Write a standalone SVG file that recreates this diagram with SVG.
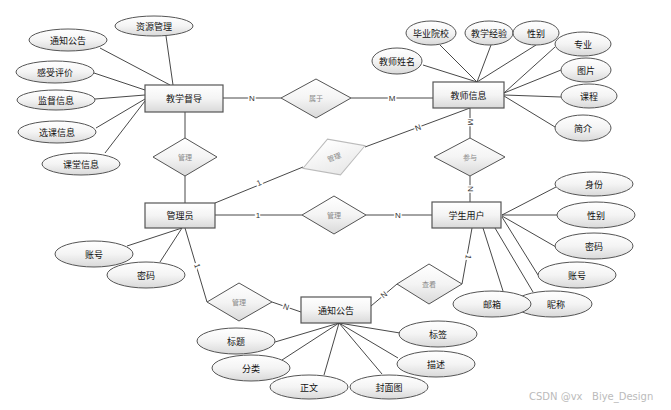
<svg xmlns="http://www.w3.org/2000/svg" width="671" height="410" viewBox="0 0 671 410">
<defs>
<linearGradient id="g" x1="0" y1="0" x2="0" y2="1">
<stop offset="0" stop-color="#ffffff"/>
<stop offset="0.5" stop-color="#f4f4f4"/>
<stop offset="1" stop-color="#d9d9d9"/>
</linearGradient>
<linearGradient id="gl" x1="0" y1="0" x2="0" y2="1">
<stop offset="0" stop-color="#ffffff"/>
<stop offset="1" stop-color="#e8e8e8"/>
</linearGradient>
</defs>
<style>
.ent{fill:url(#g);stroke:#555;stroke-width:1.2}
.att{fill:url(#g);stroke:#555;stroke-width:1}
.rel{fill:url(#g);stroke:#555;stroke-width:1}
.relg{fill:url(#gl);stroke:#bbb;stroke-width:1}
.t{font-family:"Noto Sans CJK SC","Liberation Sans",sans-serif;font-size:9px;fill:#111;text-anchor:middle;dominant-baseline:central}
.rt{font-family:"Noto Sans CJK SC","Liberation Sans",sans-serif;font-size:7px;fill:#888;text-anchor:middle;dominant-baseline:central}
.c line{stroke:#333;stroke-width:0.9}
.lb{font-family:"Liberation Sans",sans-serif;font-size:8px;fill:#333;text-anchor:middle;dominant-baseline:central;stroke:#fff;stroke-width:3;paint-order:stroke}
.wm{font-family:"DejaVu Sans","Liberation Sans",sans-serif;font-size:10px;fill:#bbb}
</style>
<rect width="671" height="410" fill="#fff"/>
<g id="connectors" class="c">
<line x1="166" y1="36" x2="173" y2="85"/>
<line x1="100" y1="48" x2="170" y2="85"/>
<line x1="94" y1="73" x2="145" y2="90"/>
<line x1="95" y1="99" x2="145" y2="95"/>
<line x1="96" y1="128" x2="145" y2="99"/>
<line x1="105" y1="153" x2="145" y2="101"/>
<line x1="423" y1="65" x2="477" y2="82"/>
<line x1="440" y1="45" x2="477" y2="82"/>
<line x1="491" y1="45" x2="477" y2="82"/>
<line x1="536" y1="45" x2="477" y2="82"/>
<line x1="555" y1="47" x2="504" y2="93"/>
<line x1="561" y1="70" x2="504" y2="93"/>
<line x1="561" y1="97" x2="504" y2="95"/>
<line x1="555" y1="127" x2="504" y2="96"/>
<line x1="556" y1="187" x2="502" y2="215"/>
<line x1="557" y1="215" x2="502" y2="215"/>
<line x1="556" y1="247" x2="502" y2="216"/>
<line x1="538" y1="275" x2="502" y2="217"/>
<line x1="533" y1="292" x2="495" y2="228"/>
<line x1="503" y1="291" x2="483" y2="228"/>
<line x1="127" y1="246" x2="182" y2="228"/>
<line x1="160" y1="262" x2="182" y2="228"/>
<line x1="275" y1="342" x2="339" y2="323"/>
<line x1="282" y1="360" x2="339" y2="323"/>
<line x1="324" y1="375" x2="339" y2="323"/>
<line x1="382" y1="374" x2="339" y2="323"/>
<line x1="398" y1="358" x2="339" y2="323"/>
<line x1="400" y1="333" x2="339" y2="323"/>
<line x1="223" y1="98" x2="281" y2="98"/>
<line x1="351" y1="98" x2="433" y2="98"/>
<line x1="185" y1="112" x2="185" y2="138"/>
<line x1="185" y1="176" x2="185" y2="203"/>
<line x1="215" y1="203" x2="303" y2="167"/>
<line x1="365" y1="147" x2="470" y2="108"/>
<line x1="215" y1="215" x2="302" y2="215"/>
<line x1="366" y1="215" x2="432" y2="215"/>
<line x1="470" y1="108" x2="470" y2="138"/>
<line x1="470" y1="176" x2="470" y2="202"/>
<line x1="472" y1="228" x2="462" y2="284"/>
<line x1="397" y1="284" x2="371" y2="306"/>
<line x1="185" y1="228" x2="207" y2="302"/>
<line x1="272" y1="302" x2="301" y2="312"/>
<text class="lb" x="252" y="98">N</text>
<text class="lb" x="392" y="98">M</text>
<text class="lb" x="259" y="183" transform="rotate(-23 259 183)">1</text>
<text class="lb" x="418" y="128" transform="rotate(-21 418 128)">N</text>
<text class="lb" x="258" y="215">1</text>
<text class="lb" x="398" y="215">N</text>
<text class="lb" x="470" y="122" transform="rotate(90 470 122)">M</text>
<text class="lb" x="470" y="189" transform="rotate(90 470 189)">N</text>
<text class="lb" x="468" y="257" transform="rotate(100 468 257)">1</text>
<text class="lb" x="384" y="295" transform="rotate(-40 384 295)">N</text>
<text class="lb" x="197" y="266" transform="rotate(73 197 266)">1</text>
<text class="lb" x="286" y="307" transform="rotate(19 286 307)">N</text>
</g>
<g id="rel-shuyu"><polygon class="rel" points="281,98 316,79 351,98 316,118"/><text class="rt" x="316" y="98">属于</text></g>
<g id="rel-guanli1"><polygon class="rel" points="153,157 185,138 217,157 185,176"/><text class="rt" x="185" y="157">管理</text></g>
<g id="rel-guanli2" transform="rotate(-20 334 157)"><polygon class="relg" points="301,157 334,138 367,157 334,176"/><text class="rt" x="334" y="157">管理</text></g>
<g id="rel-canyu"><polygon class="rel" points="434,157 470,138 505,157 470,176"/><text class="rt" x="470" y="157">参与</text></g>
<g id="rel-guanli3"><polygon class="rel" points="302,215 334,196 366,215 334,234"/><text class="rt" x="334" y="215">管理</text></g>
<g id="rel-guanli4"><polygon class="rel" points="207,302 239,283 272,302 239,321"/><text class="rt" x="239" y="302">管理</text></g>
<g id="rel-chakan"><polygon class="rel" points="397,284 429,264 462,284 429,304"/><text class="rt" x="429" y="284">查看</text></g>
<g id="ent-dudao"><rect class="ent" x="145" y="85" width="78" height="27"/><text class="t" x="184" y="98.5">教学督导</text></g>
<g id="ent-jiaoshi"><rect class="ent" x="433" y="82" width="71" height="26"/><text class="t" x="468.5" y="95">教师信息</text></g>
<g id="ent-guanliyuan"><rect class="ent" x="145" y="203" width="70" height="25"/><text class="t" x="180" y="215.5">管理员</text></g>
<g id="ent-xuesheng"><rect class="ent" x="432" y="202" width="69" height="26"/><text class="t" x="466.5" y="215">学生用户</text></g>
<g id="ent-tongzhi"><rect class="ent" x="301" y="297" width="70" height="26"/><text class="t" x="336" y="310">通知公告</text></g>
<g id="a-ziyuan"><ellipse class="att" cx="154" cy="26" rx="39" ry="10"/><text class="t" x="154" y="26">资源管理</text></g>
<g id="a-tongzhi"><ellipse class="att" cx="68" cy="40" rx="39" ry="11"/><text class="t" x="68" y="40">通知公告</text></g>
<g id="a-ganshou"><ellipse class="att" cx="55" cy="72" rx="39" ry="11"/><text class="t" x="55" y="72">感受评价</text></g>
<g id="a-jiandu"><ellipse class="att" cx="56" cy="100" rx="39" ry="10"/><text class="t" x="56" y="100">监督信息</text></g>
<g id="a-xuanke"><ellipse class="att" cx="57" cy="132" rx="39" ry="11"/><text class="t" x="57" y="132">选课信息</text></g>
<g id="a-ketang"><ellipse class="att" cx="81" cy="164" rx="39" ry="11"/><text class="t" x="81" y="164">课堂信息</text></g>
<g id="a-xingming"><ellipse class="att" cx="397" cy="61" rx="25" ry="13"/><text class="t" x="397" y="61">教师姓名</text></g>
<g id="a-yuanxiao"><ellipse class="att" cx="431" cy="33" rx="25" ry="12"/><text class="t" x="431" y="33">毕业院校</text></g>
<g id="a-jingyan"><ellipse class="att" cx="489" cy="33" rx="24" ry="12"/><text class="t" x="489" y="33">教学经验</text></g>
<g id="a-xingbie1"><ellipse class="att" cx="536" cy="33" rx="23" ry="12"/><text class="t" x="536" y="33">性别</text></g>
<g id="a-zhuanye"><ellipse class="att" cx="583" cy="44" rx="28" ry="12"/><text class="t" x="583" y="44">专业</text></g>
<g id="a-tupian"><ellipse class="att" cx="586" cy="70" rx="25" ry="12"/><text class="t" x="586" y="70">图片</text></g>
<g id="a-kecheng"><ellipse class="att" cx="589" cy="96" rx="28" ry="12"/><text class="t" x="589" y="96">课程</text></g>
<g id="a-jianjie"><ellipse class="att" cx="583" cy="128" rx="28" ry="13"/><text class="t" x="583" y="128">简介</text></g>
<g id="a-shenfen"><ellipse class="att" cx="594" cy="184" rx="39" ry="12"/><text class="t" x="594" y="184">身份</text></g>
<g id="a-xingbie2"><ellipse class="att" cx="596" cy="215" rx="39" ry="13"/><text class="t" x="596" y="215">性别</text></g>
<g id="a-mima2"><ellipse class="att" cx="594" cy="246" rx="39" ry="13"/><text class="t" x="594" y="246">密码</text></g>
<g id="a-zhanghao2"><ellipse class="att" cx="577" cy="275" rx="39" ry="13"/><text class="t" x="577" y="275">账号</text></g>
<g id="a-nicheng"><ellipse class="att" cx="553" cy="304" rx="39" ry="13"/><text class="t" x="556" y="304">昵称</text></g>
<g id="a-youxiang"><ellipse class="att" cx="492" cy="304" rx="39" ry="13"/><text class="t" x="492" y="304">邮箱</text></g>
<g id="a-zhanghao1"><ellipse class="att" cx="94" cy="254" rx="39" ry="13"/><text class="t" x="94" y="254">账号</text></g>
<g id="a-mima1"><ellipse class="att" cx="146" cy="275" rx="39" ry="13"/><text class="t" x="146" y="275">密码</text></g>
<g id="a-biaoti"><ellipse class="att" cx="236" cy="341" rx="39" ry="13"/><text class="t" x="236" y="341">标题</text></g>
<g id="a-fenlei"><ellipse class="att" cx="251" cy="368" rx="39" ry="13"/><text class="t" x="251" y="368">分类</text></g>
<g id="a-zhengwen"><ellipse class="att" cx="309" cy="387" rx="39" ry="12"/><text class="t" x="309" y="387">正文</text></g>
<g id="a-fengmian"><ellipse class="att" cx="389" cy="387" rx="39" ry="12"/><text class="t" x="389" y="387">封面图</text></g>
<g id="a-miaoshu"><ellipse class="att" cx="436" cy="364" rx="39" ry="13"/><text class="t" x="436" y="364">描述</text></g>
<g id="a-biaoqian"><ellipse class="att" cx="438" cy="334" rx="39" ry="13"/><text class="t" x="438" y="334">标签</text></g>
<text class="wm" x="529" y="400">CSDN @vx&#160;&#160;&#160;Biye_Design</text>
</svg>
